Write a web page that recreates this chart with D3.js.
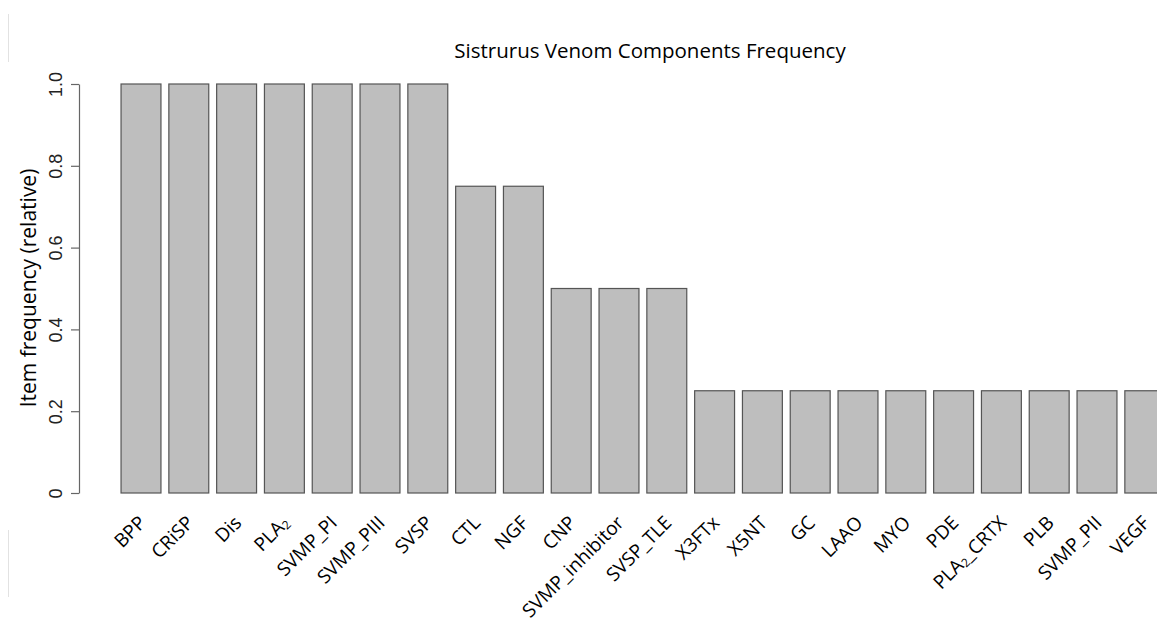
<!DOCTYPE html>
<html><head><meta charset="utf-8">
<script src="https://cdn.jsdelivr.net/npm/d3@7"></script>
<style>html,body{margin:0;padding:0;background:#fff;}svg{display:block;}</style>
</head><body>
<svg id="chart" width="1157" height="619"></svg>
<script>
const categories = ["BPP","CRiSP","Dis","PLA2","SVMP_PI","SVMP_PIII","SVSP","CTL","NGF","CNP","SVMP_inhibitor","SVSP_TLE","X3FTx","X5NT","GC","LAAO","MYO","PDE","PLA2_CRTX","PLB","SVMP_PII","VEGF"];
const values = [1,1,1,1,1,1,1,0.75,0.75,0.5,0.5,0.5,0.25,0.25,0.25,0.25,0.25,0.25,0.25,0.25,0.25,0.25];
const yTicks = [0,0.2,0.4,0.6,0.8,1.0];
const yTickLabels = ["0","0.2","0.4","0.6","0.8","1.0"];
const title = "Sistrurus Venom Components Frequency";
const yTitle = "Item frequency (relative)";

const svg = d3.select("#chart");
const sans = "'Open Sans', 'Noto Sans', sans-serif";

const step = 47.8, x0 = 117.1;
const x = d3.scaleBand().domain(categories)
  .range([x0, x0 + categories.length*step])
  .paddingInner(0.165).paddingOuter(0.0825).align(0.5);
const y = d3.scaleLinear().domain([0,1]).range([493, 84]);

// faint artifact lines
svg.append("line").attr("x1",8.5).attr("x2",8.5).attr("y1",14).attr("y2",62).attr("stroke","#e2e2e2").attr("stroke-width",1);
svg.append("line").attr("x1",8.5).attr("x2",8.5).attr("y1",530).attr("y2",597).attr("stroke","#e2e2e2").attr("stroke-width",1);

// bars
svg.append("g").selectAll("rect").data(categories).join("rect")
  .attr("x", d => x(d))
  .attr("y", (d,i) => y(values[i]))
  .attr("width", x.bandwidth())
  .attr("height", (d,i) => y(0) - y(values[i]))
  .attr("fill", "#bebebe")
  .attr("stroke", "#555")
  .attr("stroke-width", 1.2);

// y axis
const yAxis = d3.axisLeft(y).tickValues(yTicks).tickFormat((d,i) => yTickLabels[i]).tickSize(8).tickSizeOuter(0);
const gy = svg.append("g").attr("transform","translate(79,0)").call(yAxis);
gy.select(".domain").attr("stroke","#666").attr("stroke-width",1.2);
gy.selectAll(".tick line").attr("stroke","#666").attr("stroke-width",1.2);
gy.selectAll(".tick text")
  .attr("font-family","'Liberation Sans', Arial, sans-serif")
  .attr("font-size",18).attr("fill","#222")
  .attr("text-anchor","middle")
  .attr("x",null).attr("dy",null)
  .attr("transform", d => `translate(-17,0) rotate(-90)`);

// y title
svg.append("text")
  .attr("transform","translate(36,288) rotate(-90)")
  .attr("text-anchor","middle")
  .attr("font-family",sans).attr("font-size",21).attr("fill","#000")
  .text(yTitle);

// title
svg.append("text").attr("x",650).attr("y",58).attr("text-anchor","middle")
  .attr("font-family",sans).attr("font-size",20.5).attr("fill","#000")
  .text(title);

// category labels
const lab = svg.append("g").selectAll("text").data(categories).join("text")
  .attr("transform", d => `translate(${x(d) + x.bandwidth()/2 + 6},524) rotate(-45)`)
  .attr("text-anchor","end")
  .attr("font-family",sans).attr("font-size",19).attr("fill","#000");
lab.each(function(d){
  const t = d3.select(this);
  if (d.startsWith("PLA2")) {
    t.append("tspan").text("PLA");
    t.append("tspan").attr("font-size",12).attr("dy",2).text("2");
    const rest = d.slice(4);
    if (rest) t.append("tspan").attr("dy",-2).text(rest);
  } else t.text(d);
});
</script>
</body></html>
